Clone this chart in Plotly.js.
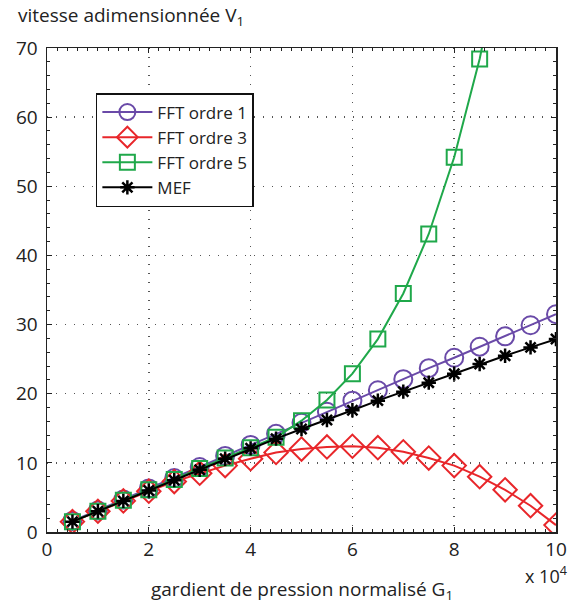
<!DOCTYPE html>
<html>
<head>
<meta charset="utf-8">
<script src="https://cdn.plot.ly/plotly-3.0.1.min.js"></script>
<style>html,body{margin:0;padding:0;background:#fff;}#chart{width:583px;height:606px;}</style>
</head>
<body>
<div id="chart"></div>
<script>
// x values (gradient, units of 1e4)
const G = [0.5,1,1.5,2,2.5,3,3.5,4,4.5,5,5.5,6,6.5,7,7.5,8,8.5,9,9.5,10];
const fft1 = [1.6,3.1,4.7,6.3,7.8,9.4,11.0,12.6,14.2,15.8,17.4,19.0,20.5,22.1,23.7,25.2,26.8,28.3,29.9,31.5];
const fft3 = [1.5,3.0,4.5,5.9,7.3,8.5,9.6,10.6,11.5,12.0,12.3,12.4,12.2,11.6,10.7,9.6,8.0,6.1,3.8,1.0];
const G5 = [0.5,1,1.5,2,2.5,3,3.5,4,4.5,5,5.5,6,6.5,7,7.5,8,8.5,9];
const fft5 = [1.5,3.0,4.6,6.1,7.6,9.2,10.7,12.2,13.7,16.1,19.1,22.9,27.9,34.5,43.1,54.2,68.4,86.5];
const mef = [1.5,3.0,4.5,6.0,7.5,9.0,10.6,12.1,13.5,14.9,16.2,17.6,19.0,20.3,21.6,22.9,24.3,25.5,26.7,27.9];
const names = ['FFT ordre 1','FFT ordre 3','FFT ordre 5','MEF'];
const xTicks = [0,2,4,6,8,10];
const yTicks = [0,10,20,30,40,50,60,70];

const FONT = 'Open Sans, Noto Sans, sans-serif';
const traces = [
  {x:G, y:fft1, name:names[0], legendgroup:'a', mode:'lines+markers',
   line:{color:'#6a4aa8', width:2},
   marker:{symbol:'circle-open', size:18, color:'#6a4aa8', line:{width:2, color:'#6a4aa8'}}},
  {x:G, y:fft3, name:names[1], legendgroup:'b', mode:'lines+markers',
   line:{color:'#e8262a', width:2},
   marker:{symbol:'diamond-open', size:18, color:'#e8262a', line:{width:2, color:'#e8262a'}}},
  {x:G5, y:fft5, name:names[2], legendgroup:'c', mode:'lines+markers',
   line:{color:'#1fa84a', width:2},
   marker:{symbol:'square-open', size:15, color:'#1fa84a', line:{width:2, color:'#1fa84a'}}},
  {x:G, y:mef, name:names[3], legendgroup:'d', mode:'lines+markers',
   line:{color:'#000000', width:2},
   marker:{symbol:'asterisk-open', size:12, color:'#000', line:{width:2.5, color:'#000'}}}
];

const axisCommon = {
  showline:true, mirror:'ticks', linecolor:'#222', linewidth:1.5,
  ticks:'inside', ticklen:5, tickwidth:1, tickcolor:'#222',
  showgrid:true, gridcolor:'#555', griddash:'1px,8px', gridwidth:1.5,
  zeroline:false, tickfont:{family:FONT, size:19, color:'#222'}
};

const layout = {
  width:583, height:606,
  margin:{l:47, r:27, t:48, b:74},
  paper_bgcolor:'#fff', plot_bgcolor:'#fff',
  showlegend:true,
  legend:{x:0.096, y:0.907, xanchor:'left', yanchor:'top',
    bgcolor:'#fff', bordercolor:'#111', borderwidth:1.5,
    font:{family:FONT, size:17, color:'#222'}, itemwidth:50, tracegroupgap:9,
    traceorder:'normal'},
  xaxis:Object.assign({}, axisCommon, {range:[0,10], tickvals:xTicks, ticktext:xTicks.map(String),
    minor:{dtick:0.2, ticks:'inside', ticklen:3, tickcolor:'#222', showgrid:false}}),
  yaxis:Object.assign({}, axisCommon, {range:[0,70], tickvals:yTicks, ticktext:yTicks.map(String),
    ticklabelstandoff:4,
    minor:{dtick:2, ticks:'inside', ticklen:3, tickcolor:'#222', showgrid:false}}),
  annotations:[
    {xref:'paper', yref:'paper', x:-0.06, y:1.0, yshift:16, xanchor:'left', yanchor:'bottom', showarrow:false,
     text:'vitesse adimensionnée V<sub>1</sub>', font:{family:FONT, size:19, color:'#222'}},
    {xref:'paper', yref:'paper', x:0.5, y:0, yshift:-42, xanchor:'center', yanchor:'top', showarrow:false,
     text:'gardient de pression normalisé G<sub>1</sub>', font:{family:FONT, size:19, color:'#222'}},
    {xref:'paper', yref:'paper', x:0.98, y:0, yshift:-28, xanchor:'center', yanchor:'top', showarrow:false,
     text:'x 10<sup>4</sup>', font:{family:FONT, size:18, color:'#222'}}
  ]
};

Plotly.newPlot('chart', traces, layout, {displayModeBar:false, staticPlot:true});
</script>
</body>
</html>
